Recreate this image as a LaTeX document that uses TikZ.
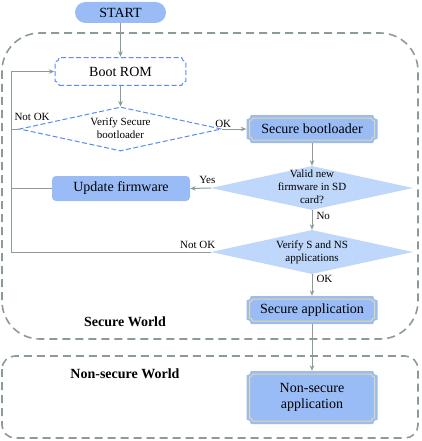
\documentclass[tikz,border=0pt]{standalone}
\usepackage{fontspec}
\setmainfont{Liberation Serif}
\usetikzlibrary{arrows.meta,shapes.geometric}

\definecolor{boxblue}{RGB}{153,188,246}
\definecolor{paleblue}{RGB}{191,215,250}
\definecolor{dashblue}{RGB}{88,140,240}
\definecolor{wallgray}{RGB}{140,154,152}
\definecolor{gold}{RGB}{232,218,150}

\newcommand{\notched}[3]{%
  \path[#1] ([shift={(#2+#3,#2)}]path picture bounding box.south west)
    -- ([shift={(-#2-#3,#2)}]path picture bounding box.south east) arc[start angle=180,end angle=90,radius=#3pt]
    -- ([shift={(-#2,-#2-#3)}]path picture bounding box.north east) arc[start angle=270,end angle=180,radius=#3pt]
    -- ([shift={(#2+#3,-#2)}]path picture bounding box.north west) arc[start angle=0,end angle=-90,radius=#3pt]
    -- ([shift={(#2,#2+#3)}]path picture bounding box.south west) arc[start angle=90,end angle=0,radius=#3pt]
    -- cycle;}
\newcommand{\zerobox}[1]{\makebox[0pt]{\raisebox{-2.7pt}[0pt][0pt]{\begin{tabular}{@{}c@{}}#1\end{tabular}}}}

\begin{document}
\begin{tikzpicture}[x=1pt,y=1pt,
  line/.style={draw=wallgray, line width=1pt, -{Stealth[length=5.5pt,width=4.5pt]}},
  plain/.style={draw=wallgray, line width=1pt},
  world/.style={draw=wallgray, line width=1.6pt, dash pattern=on 8pt off 5pt},
  tag/.style={font=\fontsize{11}{13}\selectfont, inner sep=1pt},
  startbox/.style={fill=boxblue, rounded corners=10.5pt, minimum width=91pt, minimum height=21pt, font=\fontsize{14}{16}\selectfont},
  rombox/.style={fill=white, minimum width=132pt, minimum height=29pt, font=\fontsize{14}{16}\selectfont,
    path picture={\notched{draw=dashblue,line width=1pt,dash pattern=on 5pt off 2.5pt}{0.7}{4}}},
  fancybox/.style={fill=white, minimum width=131pt, minimum height=28pt, align=center, font=\fontsize{14}{16.5}\selectfont,
    path picture={\notched{fill=boxblue}{0}{4.5}\notched{draw=gold,line width=1pt}{3}{3}}},
  updbox/.style={fill=boxblue, rounded corners=4pt, minimum width=138pt, minimum height=25pt, font=\fontsize{14}{16}\selectfont},
  check/.style={diamond, inner sep=0pt, minimum width=202pt, minimum height=44pt, font=\fontsize{11}{13}\selectfont},
  dashcheck/.style={check, draw=dashblue, line width=1pt, dash pattern=on 5pt off 2.5pt, fill=white},
  fillcheck/.style={check, fill=paleblue},
  worldname/.style={font=\fontsize{14}{16}\selectfont\bfseries}
]
\useasboundingbox (0,0) rectangle (422,-441);

\draw[world, rounded corners=38pt] (2,-33) rectangle (418,-339);
\draw[world, rounded corners=13pt] (2,-356) rectangle (418,-438);

\node[startbox] (start) at (120.5,-12.5) {START};
\node[rombox] (rom) at (120.5,-71.5) {Boot ROM};
\node[dashcheck] (verify) at (120.5,-129) {\zerobox{Verify Secure\\bootloader}};
\node[fancybox] (secboot) at (312,-129) {Secure bootloader};
\node[fillcheck] (valid) at (312,-188) {\zerobox{Valid new\\firmware in SD\\card?}};
\node[updbox] (update) at (121,-188.5) {Update firmware};
\node[fillcheck] (checkns) at (312,-252) {\zerobox{Verify S and NS\\applications}};
\node[fancybox] (secapp) at (312,-310) {Secure application};
\node[fancybox, minimum height=53pt] (nsapp) at (312,-397.5) {Non-secure\\application};

\node[worldname] (sw) at (125,-322) {Secure World};
\node[worldname] (nsw) at (125,-374) {Non-secure World};

\coordinate (loop) at (11,-252);

\draw[line] (start) -- (rom);
\draw[line] (rom) -- (verify);
\draw[line] (verify.east) -- node[tag, pos=0.05, above] {OK} (secboot.west);
\draw[line] (secboot) -- (valid);
\draw[line] (valid.west) -- node[tag, pos=0, anchor=south east, xshift=6pt, yshift=3pt] {Yes} (update.east);
\draw[line] (valid) -- node[tag, pos=0.3, anchor=west, xshift=3pt] {No} (checkns);
\draw[line] (checkns) -- node[tag, pos=0.23, anchor=west, xshift=3pt] {OK} (secapp);
\draw[line] (secapp) -- (nsapp);

\draw[line] (checkns.west) -- node[tag, pos=0, anchor=south east, xshift=6pt, yshift=2pt] {Not OK} (loop) |- (rom.west);
\draw[plain] (verify.west) -- (verify.west -| loop) node[tag, anchor=south west, xshift=2pt, yshift=7pt] {Not OK};
\draw[plain] (update.west) -- (update.west -| loop);

\end{tikzpicture}
\end{document}
